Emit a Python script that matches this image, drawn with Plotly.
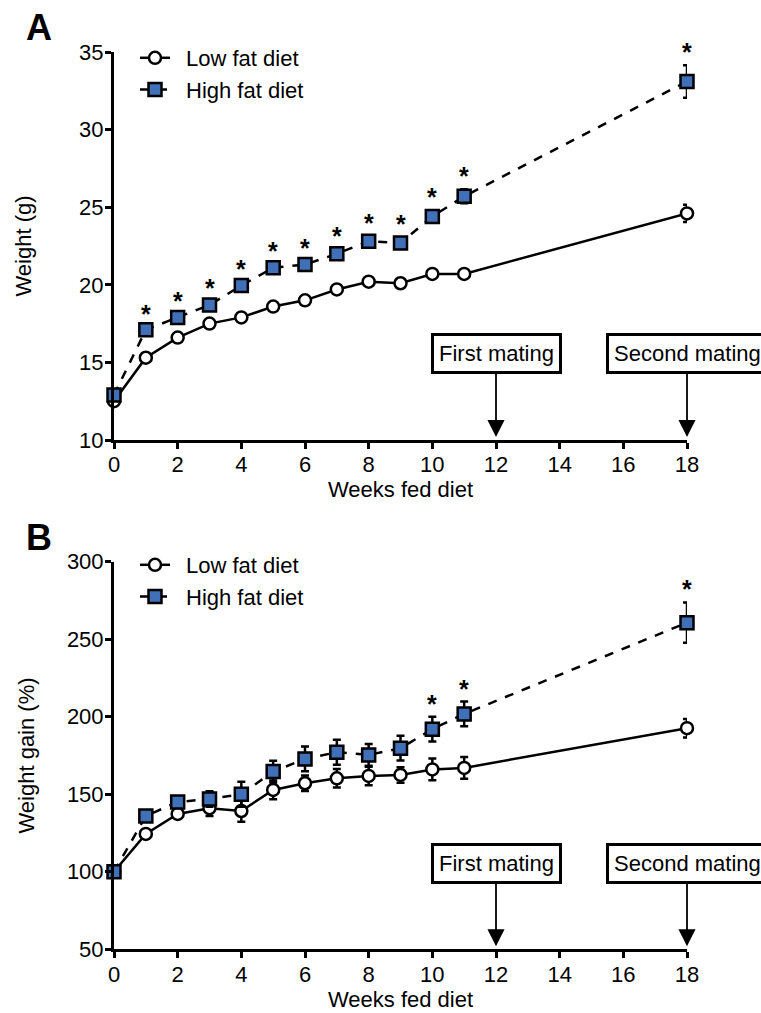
import plotly.graph_objects as go

weeks = [0, 1, 2, 3, 4, 5, 6, 7, 8, 9, 10, 11, 18]

lf_weight = [12.5, 15.3, 16.6, 17.5, 17.9, 18.6, 19.0, 19.7, 20.2, 20.1, 20.7, 20.7, 24.6]
lf_weight_err = [0.2, 0.2, 0.2, 0.2, 0.2, 0.2, 0.2, 0.2, 0.2, 0.2, 0.2, 0.2, 0.55]
hf_weight = [12.9, 17.1, 17.9, 18.7, 19.95, 21.1, 21.3, 22.0, 22.8, 22.7, 24.4, 25.7, 33.1]
hf_weight_err = [0.2, 0.2, 0.25, 0.25, 0.25, 0.25, 0.25, 0.3, 0.35, 0.35, 0.4, 0.45, 1.05]

lf_gain = [100, 124.4, 137.3, 141, 139.2, 152.8, 157.1, 160.3, 161.8, 162.5, 166, 167, 192.6]
lf_gain_err = [0, 3, 3, 5, 7, 6, 5, 6, 6, 5, 7, 7, 6]
hf_gain = [100, 136, 145, 147, 150, 164.6, 172.8, 177.1, 175.4, 179.7, 192, 201.8, 260.7]
hf_gain_err = [0, 2, 3, 5, 8, 7, 8, 8, 7, 8, 8, 8, 13]

sig_weeks_weight = [1, 2, 3, 4, 5, 6, 7, 8, 9, 10, 11, 18]
sig_weeks_gain = [10, 11, 18]

x_ticks = [0, 2, 4, 6, 8, 10, 12, 14, 16, 18]
events = [(12, "First mating"), (18, "Second mating")]
series_names = ["Low fat diet", "High fat diet"]

BLUE = "#4070B8"
FONT = "Liberation Sans, Arial, sans-serif"
FS = 22
W, H = 761, 1013

fig = go.Figure()


def add_panel(xa, ya, lf, lf_err, hf, hf_err, legend):
    fig.add_trace(go.Scatter(
        x=weeks, y=lf, mode="lines+markers", name="\u2002" + series_names[0],
        xaxis=xa, yaxis=ya, legend=legend, cliponaxis=False,
        line=dict(color="black", width=2.5),
        marker=dict(symbol="circle", size=12, color="white",
                    line=dict(color="black", width=2.5)),
        error_y=dict(type="data", array=lf_err, color="black", thickness=2.5, width=4),
    ))
    fig.add_trace(go.Scatter(
        x=weeks, y=hf, mode="lines+markers", name="\u2002" + series_names[1],
        xaxis=xa, yaxis=ya, legend=legend, cliponaxis=False,
        line=dict(color="black", width=2.5, dash="dash"),
        marker=dict(symbol="square", size=13, color=BLUE,
                    line=dict(color="black", width=2.5)),
        error_y=dict(type="data", array=hf_err, color="black", thickness=2.5, width=4),
    ))


add_panel("x", "y", lf_weight, lf_weight_err, hf_weight, hf_weight_err, "legend")
add_panel("x2", "y2", lf_gain, lf_gain_err, hf_gain, hf_gain_err, "legend2")

annotations = []
# significance asterisks
for wk in sig_weeks_weight:
    i = weeks.index(wk)
    annotations.append(dict(x=wk, y=hf_weight[i] + hf_weight_err[i], xref="x", yref="y",
                            text="<b>*</b>", showarrow=False, yanchor="bottom", yshift=-3,
                            font=dict(size=25, color="black", family=FONT)))
for wk in sig_weeks_gain:
    i = weeks.index(wk)
    annotations.append(dict(x=wk, y=hf_gain[i] + hf_gain_err[i], xref="x2", yref="y2",
                            text="<b>*</b>", showarrow=False, yanchor="bottom", yshift=-3,
                            font=dict(size=25, color="black", family=FONT)))
# mating events
for xr, yr, ybase in [("x", "y", 10), ("x2", "y2", 50)]:
    for wk, label in events:
        annotations.append(dict(
            x=wk, y=ybase, xref=xr, yref=yr, text=label,
            showarrow=True, ax=0, ay=-86, arrowhead=2, arrowsize=1.9,
            arrowwidth=1.8, arrowcolor="black", standoff=3,
            bordercolor="black", borderwidth=3, borderpad=5, bgcolor="white",
            font=dict(size=FS, color="black", family=FONT),
        ))
# panel letters
annotations.append(dict(x=24 / W, y=1 - 28 / H, xref="paper", yref="paper", text="<b>A</b>",
                        showarrow=False, xanchor="left", yanchor="middle",
                        font=dict(size=36, color="black", family=FONT)))
annotations.append(dict(x=24 / W, y=1 - 537 / H, xref="paper", yref="paper", text="<b>B</b>",
                        showarrow=False, xanchor="left", yanchor="middle",
                        font=dict(size=36, color="black", family=FONT)))

xdom = [114 / W, 687 / W]
axis_common = dict(showline=True, linecolor="black", linewidth=3, ticks="outside",
                   ticklen=6, tickwidth=3, tickcolor="black", showgrid=False, zeroline=False,
                   automargin=False, ticklabelstandoff=-3,
                   tickfont=dict(size=FS, color="black", family=FONT))

legend_common = dict(font=dict(size=FS, color="black", family=FONT), bgcolor="rgba(0,0,0,0)",
                     xanchor="left", yanchor="top", tracegroupgap=0)

fig.update_layout(
    width=W, height=H, margin=dict(l=0, r=0, t=0, b=0, autoexpand=False),
    paper_bgcolor="white", plot_bgcolor="white",
    font=dict(family=FONT, color="black"),
    showlegend=True,
    xaxis=dict(domain=xdom, range=[0, 18], tickvals=x_ticks, anchor="y",
               title=dict(text="Weeks fed diet", standoff=6, font=dict(size=FS)), **axis_common),
    yaxis=dict(domain=[1 - 440 / H, 1 - 52 / H], range=[10, 35], tickvals=[10, 15, 20, 25, 30, 35],
               anchor="x", title=dict(text="Weight (g)", standoff=42, font=dict(size=FS)), **axis_common),
    xaxis2=dict(domain=xdom, range=[0, 18], tickvals=x_ticks, anchor="y2",
                title=dict(text="Weeks fed diet", standoff=6, font=dict(size=FS)), **axis_common),
    yaxis2=dict(domain=[1 - 949.3 / H, 1 - 561.7 / H], range=[50, 300],
                tickvals=[50, 100, 150, 200, 250, 300], anchor="x2",
                title=dict(text="Weight gain (%)", standoff=27, font=dict(size=FS)), **axis_common),
    legend=dict(x=135 / W, y=1 - 37 / H, **legend_common),
    legend2=dict(x=135 / W, y=1 - 544 / H, **legend_common),
    annotations=annotations,
)

fig.write_html("out.html", config={"displayModeBar": False},
               post_script="document.body.style.margin='0';")
